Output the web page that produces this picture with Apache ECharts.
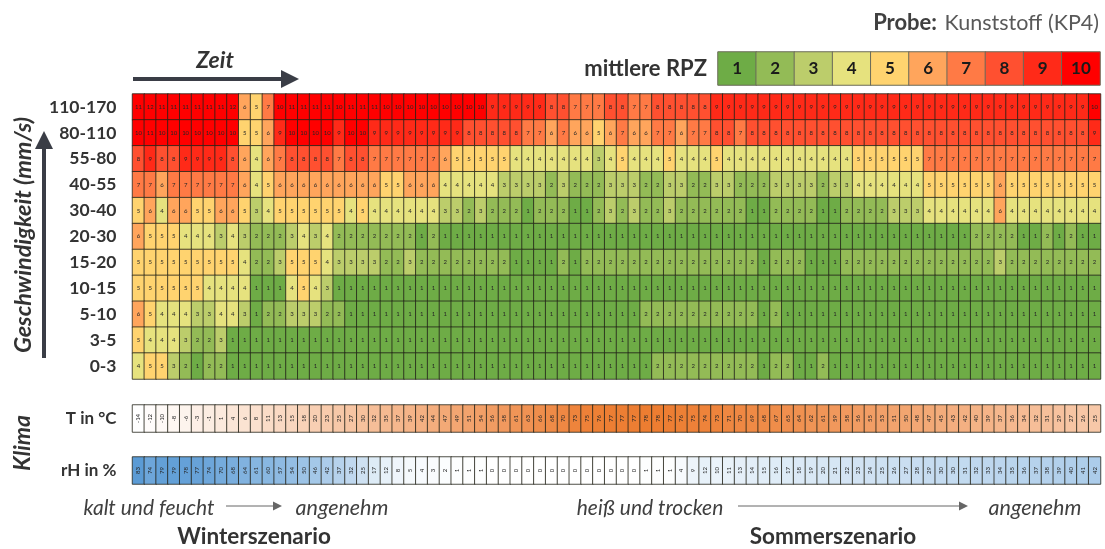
<!DOCTYPE html>
<html>
<head>
  <meta charset="UTF-8">
  <title>Probe: Kunststoff (KP4)</title>
  <style>
    html, body { margin: 0; padding: 0; background: #fff; }
    #chart { width: 1105px; height: 549px; }
  </style>
</head>
<body>
  <div id="chart"></div>
  <script src="https://cdn.jsdelivr.net/npm/echarts@6/dist/echarts.min.js"></script>
  <script>
// Geschwindigkeitsklassen, oben nach unten
const speeds = ['110-170', '80-110', '55-80', '40-55', '30-40', '20-30', '15-20', '10-15', '5-10', '3-5', '0-3']
const rpzScale = [1, 2, 3, 4, 5, 6, 7, 8, 9, 10]
const rpzColors = ['#6eac46', '#93bb56', '#bccd6b', '#e6e27e', '#ffd36f', '#ffa55c', '#ff7a45', '#ff5030', '#ff2a18', '#ff0000']

const r110 = [11,12,11,11,11,11,11,11,12,6,5,7,10,11,11,11,11,10,11,11,11,
  10,10,10,10,10,10,10,10,10,9,9,9,9,9,8,8,7,7,7,8,
  8,7,7,8,8,8,8,8,9,9,9,9,9,9,9,9,9,9,9,9,9,
  9,9,9,9,9,9,9,9,9,9,9,9,9,9,9,9,9,9,9,10]
const r80 = [10,11,10,10,10,10,10,10,10,5,5,6,9,10,10,10,10,9,10,10,9,
  9,9,9,9,9,9,9,8,8,8,8,8,7,7,6,7,6,6,5,6,
  7,6,6,7,7,6,7,7,8,8,7,8,8,8,8,8,8,8,8,8,8,
  8,8,8,8,8,8,8,8,8,8,8,8,8,8,8,8,8,8,8,9]
const r55 = [8,9,8,8,9,9,9,9,8,6,4,6,7,8,8,8,8,7,8,8,7,
  7,7,7,7,7,6,5,5,5,5,5,4,4,4,4,4,4,4,3,4,
  5,4,4,4,5,4,4,4,5,4,4,4,4,4,4,4,4,4,4,4,5,
  5,5,5,5,5,7,7,7,7,7,7,7,7,7,7,7,7,7,7,7]
const r40 = [7,7,6,7,7,7,7,7,7,6,4,5,6,6,6,6,6,6,6,6,6,
  5,5,6,6,6,4,4,4,4,4,3,3,3,3,2,3,2,2,2,3,
  3,3,2,2,3,3,2,2,3,3,2,2,2,3,3,3,3,2,3,3,4,
  4,4,4,4,4,5,5,5,5,5,5,6,5,5,5,5,5,5,5,5]
const r30 = [5,6,4,6,6,5,5,6,6,5,3,4,5,5,5,5,5,5,4,5,4,
  4,4,4,4,4,3,3,2,3,2,2,2,1,2,2,2,1,1,2,3,
  2,3,2,2,3,2,2,2,2,2,2,1,1,2,2,2,2,1,1,2,2,
  2,2,3,3,3,4,4,4,4,4,4,6,4,4,4,4,4,4,4,4]
const r20 = [6,5,5,5,4,4,4,3,4,3,2,2,2,3,4,3,4,2,2,2,2,
  2,2,2,1,2,1,1,1,1,1,1,1,1,1,1,1,1,1,1,1,
  1,1,1,1,1,1,1,1,1,1,1,1,1,1,1,1,1,1,1,1,1,
  1,1,1,1,1,1,1,1,1,2,2,2,2,1,1,2,1,2,1,1]
const r15 = [5,5,5,5,5,5,5,5,5,4,2,2,3,5,5,5,4,3,3,3,3,
  2,2,3,2,2,2,2,2,2,2,2,1,1,1,1,2,1,2,2,2,
  2,2,2,2,2,2,2,2,2,2,2,2,1,2,2,2,1,1,1,2,2,
  2,2,2,2,2,2,2,2,2,2,2,3,2,2,2,2,2,2,2,2]
const r10 = [5,5,5,5,5,5,4,4,4,4,1,1,1,4,5,4,3,1,1,1,1,
  1,1,1,1,1,1,1,1,1,1,1,1,1,1,1,1,1,1,1,1,
  1,1,1,1,1,1,1,1,1,1,1,1,1,1,1,1,1,1,1,1,1,
  1,1,1,1,1,1,1,1,1,1,1,1,1,1,1,1,1,1,1,1]
const r5 = [6,5,4,4,4,3,3,4,4,3,1,2,2,3,3,3,2,2,1,1,1,
  1,1,1,1,1,1,1,1,1,1,1,1,1,1,1,1,1,1,1,1,
  1,1,2,2,2,2,2,2,2,2,2,2,1,2,1,1,1,1,1,1,1,
  1,1,1,1,1,1,1,1,1,1,1,1,1,1,1,1,1,1,1,1]
const r3 = [5,4,4,4,3,2,2,3,1,1,1,1,1,1,1,1,1,1,1,1,1,
  1,1,1,1,1,1,1,1,1,1,1,1,1,1,1,1,1,1,1,1,
  1,1,1,1,1,1,1,1,1,1,1,1,1,1,1,1,1,1,1,1,1,
  1,1,1,1,1,1,1,1,1,1,1,1,1,1,1,1,1,1,1,1]
const r0 = [4,5,5,3,2,1,2,2,1,1,1,1,1,1,1,1,1,1,1,1,1,
  1,1,1,1,1,1,1,1,1,1,1,1,1,1,1,1,1,1,1,1,
  1,1,1,2,2,2,2,2,2,2,2,2,1,2,2,1,1,2,1,1,1,
  1,1,1,1,1,1,1,1,1,1,1,1,1,1,1,1,1,1,1,1]
const rpzRows = [r110, r80, r55, r40, r30, r20, r15, r10, r5, r3, r0]

const tempValues = [-14,-12,-10,-8,-6,-3,-1,1,4,6,8,11,13,15,18,20,23,25,27,30,32,35,37,39,42,44,47,
  49,51,54,56,58,61,63,66,68,70,73,75,76,77,77,77,78,78,77,76,75,74,73,71,70,69,68,67,
  65,64,62,61,59,58,56,55,53,51,50,48,47,45,43,42,40,39,37,36,34,32,31,29,27,26,25]
const humidityValues = [83,74,79,79,78,77,74,70,68,64,61,60,57,54,50,46,42,37,32,25,17,12,8,5,4,3,2,
  1,1,1,0,0,0,0,0,0,0,0,0,0,0,0,0,1,1,1,4,9,12,10,11,13,14,15,16,
  17,18,19,20,21,22,23,24,25,26,27,28,29,30,30,31,32,33,34,35,36,37,38,39,40,41,42]

const times = tempValues.map((_, i) => i)
const font = 'Lato'
const textDark = '#333333'

const rpzData = []
rpzRows.forEach((row, y) => row.forEach((v, x) => rpzData.push([x, y, v])))

function cellSeries (index, data, label) {
  return {
    type: 'heatmap',
    xAxisIndex: index,
    yAxisIndex: index,
    data,
    itemStyle: { borderColor: 'rgba(35,35,25,0.8)', borderWidth: 1 },
    label: Object.assign({
      show: true,
      color: '#262626',
      fontFamily: font,
      fontSize: 6,
      formatter: p => p.value[2]
    }, label),
    emphasis: { disabled: true }
  }
}

function yAxis (gridIndex, data, fontSize, margin) {
  return {
    type: 'category',
    gridIndex,
    data,
    inverse: true,
    axisLine: { show: false },
    axisTick: { show: false },
    axisLabel: { interval: 0, margin, color: textDark, fontFamily: font, fontWeight: 'bold', fontSize }
  }
}

function xAxis (gridIndex, data) {
  return { type: 'category', gridIndex, data, show: false }
}

function text (x, y, str, style) {
  return {
    type: 'text',
    x,
    y,
    rotation: style.rotation || 0,
    style: Object.assign({
      text: str,
      fill: textDark,
      fontFamily: font,
      fontSize: 18,
      textAlign: 'center',
      textVerticalAlign: 'middle'
    }, style)
  }
}

function arrow (x1, y1, x2, y2, width, head, color) {
  const a = Math.atan2(y2 - y1, x2 - x1)
  const bx = x2 - Math.cos(a) * head
  const by = y2 - Math.sin(a) * head
  const nx = -Math.sin(a) * head * 0.5
  const ny = Math.cos(a) * head * 0.5
  return [
    { type: 'line', shape: { x1, y1, x2: bx, y2: by }, style: { stroke: color, lineWidth: width } },
    { type: 'polygon', shape: { points: [[x2, y2], [bx + nx, by + ny], [bx - nx, by - ny]] }, style: { fill: color } }
  ]
}

const echart = echarts.init(document.getElementById('chart'), null, { renderer: 'canvas' })
const option = {
  animation: false,
  backgroundColor: '#fff',
  grid: [
    { left: 132.5, top: 94, width: 968, height: 285 },
    { left: 132.5, top: 405, width: 968, height: 27 },
    { left: 132.5, top: 457, width: 968, height: 27 },
    { left: 718, top: 52, width: 382, height: 33 }
  ],
  xAxis: [xAxis(0, times), xAxis(1, times), xAxis(2, times), xAxis(3, rpzScale)],
  yAxis: [
    yAxis(0, speeds, 17.5, 16),
    yAxis(1, ['T in °C'], 17, 16),
    yAxis(2, ['rH in %'], 17, 16),
    yAxis(3, ['mittlere RPZ'], 22, 11)
  ],
  visualMap: [
    { type: 'continuous', show: false, min: 1, max: 10, seriesIndex: [0, 3], inRange: { color: rpzColors } },
    { type: 'continuous', show: false, min: -14, max: 78, seriesIndex: 1, inRange: { color: ['#ffffff', '#ed7d31'] } },
    { type: 'continuous', show: false, min: 0, max: 83, seriesIndex: 2, inRange: { color: ['#ffffff', '#5b9bd5'] } }
  ],
  series: [
    cellSeries(0, rpzData, {}),
    cellSeries(1, tempValues.map((v, x) => [x, 0, v]), { rotate: 90 }),
    cellSeries(2, humidityValues.map((v, x) => [x, 0, v]), { rotate: 90 }),
    Object.assign(cellSeries(3, rpzScale.map((v, x) => [x, 0, v]), { fontSize: 17, fontWeight: 'bold', color: '#1a1a1a' }), {
      itemStyle: { borderColor: '#6b6b5a', borderWidth: 1 }
    })
  ],
  graphic: [
    text(1099, 23, 'Kunststoff (KP4)', { textAlign: 'right', fontSize: 21.5, fill: '#595959' }),
    text(937, 23, 'Probe:', { textAlign: 'right', fontSize: 22, fontWeight: 'bold', fill: '#404040' }),
    text(215, 61, 'Zeit', { fontSize: 23, fontStyle: 'italic', fontWeight: 'bold' }),
    text(23, 235, 'Geschwindigkeit (mm/s)', { fontSize: 23.5, fontStyle: 'italic', fontWeight: 'bold', rotation: Math.PI / 2 }),
    text(23, 443, 'Klima', { fontSize: 23, fontStyle: 'italic', fontWeight: 'bold', rotation: Math.PI / 2 }),
    text(149, 508, 'kalt und feucht', { fontSize: 21, fontStyle: 'italic', fill: '#404040' }),
    text(342, 508, 'angenehm', { fontSize: 21.5, fontStyle: 'italic', fill: '#404040' }),
    text(650, 508, 'heiß und trocken', { fontSize: 21, fontStyle: 'italic', fill: '#404040' }),
    text(1035, 508, 'angenehm', { fontSize: 21.5, fontStyle: 'italic', fill: '#404040' }),
    text(254, 537, 'Winterszenario', { fontSize: 22.5, fontWeight: 'bold' }),
    text(833, 537, 'Sommerszenario', { fontSize: 22.5, fontWeight: 'bold' }),
    ...arrow(133, 79, 299, 79, 4, 18, '#3a3d46'),
    ...arrow(44, 358, 44, 131, 4, 18, '#3a3d46'),
    ...arrow(226, 506, 282, 506, 1, 9, '#666666'),
    ...arrow(738, 506, 968, 506, 1, 9, '#666666')
  ]
}
echart.setOption(option)
  </script>
</body>
</html>
